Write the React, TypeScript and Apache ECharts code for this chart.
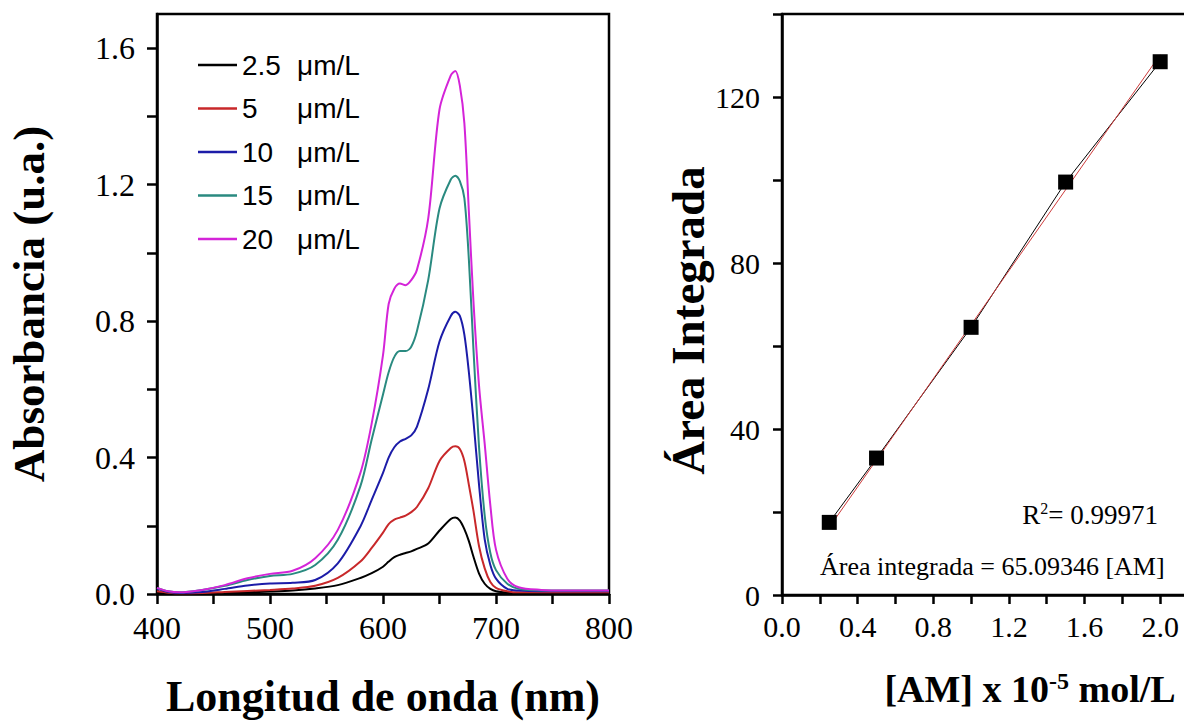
import React, { useEffect, useRef } from "react";
import * as echarts from "echarts";

// ---- Data ----
const wavelengths = [400, 410, 420, 440, 460, 480, 500, 520, 540, 560, 580, 590, 600, 605, 610, 615, 620, 625, 630, 640, 650, 660, 664, 668, 672, 676, 680, 685, 690, 695, 700, 710, 720, 740, 760, 780, 800];
const abs25 = [0.004, 0.002, 0.001, 0.002, 0.003, 0.005, 0.007, 0.01, 0.016, 0.026, 0.047, 0.061, 0.08, 0.095, 0.108, 0.115, 0.12, 0.125, 0.132, 0.148, 0.186, 0.22, 0.224, 0.215, 0.19, 0.155, 0.11, 0.06, 0.03, 0.015, 0.008, 0.004, 0.003, 0.003, 0.003, 0.003, 0.003];
const abs5 = [0.008, 0.004, 0.002, 0.003, 0.006, 0.009, 0.012, 0.016, 0.024, 0.047, 0.095, 0.135, 0.18, 0.205, 0.218, 0.224, 0.23, 0.24, 0.255, 0.31, 0.39, 0.428, 0.433, 0.425, 0.39, 0.32, 0.245, 0.14, 0.075, 0.035, 0.018, 0.008, 0.005, 0.005, 0.005, 0.005, 0.005];
const abs10 = [0.015, 0.006, 0.003, 0.006, 0.015, 0.025, 0.031, 0.033, 0.041, 0.09, 0.198, 0.276, 0.355, 0.4, 0.43, 0.447, 0.455, 0.465, 0.49, 0.6, 0.74, 0.815, 0.827, 0.815, 0.76, 0.65, 0.51, 0.32, 0.16, 0.085, 0.045, 0.015, 0.01, 0.008, 0.008, 0.008, 0.008];
const abs15 = [0.018, 0.008, 0.005, 0.012, 0.024, 0.041, 0.053, 0.059, 0.085, 0.159, 0.316, 0.453, 0.585, 0.65, 0.695, 0.712, 0.712, 0.725, 0.77, 0.92, 1.13, 1.215, 1.226, 1.21, 1.16, 0.98, 0.72, 0.43, 0.23, 0.12, 0.07, 0.03, 0.015, 0.01, 0.01, 0.01, 0.01];
const abs20 = [0.018, 0.008, 0.005, 0.012, 0.026, 0.046, 0.059, 0.068, 0.105, 0.188, 0.355, 0.5, 0.7, 0.85, 0.895, 0.91, 0.905, 0.92, 0.95, 1.1, 1.42, 1.52, 1.533, 1.49, 1.38, 1.12, 0.86, 0.61, 0.44, 0.26, 0.13, 0.045, 0.02, 0.012, 0.01, 0.01, 0.01];
const seriesNames = ["2.5 μm/L", "5 μm/L", "10 μm/L", "15 μm/L", "20 μm/L"];

const concentrations = [0.25, 0.5, 1.0, 1.5, 2.0];
const areas = [17.5, 33, 64.5, 99.5, 128.5];
const fitLine = [[0.25, 16.3], [2.0, 130.2]];

const leftXTicks = [400, 450, 500, 550, 600, 650, 700, 750, 800];
const leftXLabels = [400, 500, 600, 700, 800];
const leftYTicks = [0, 0.2, 0.4, 0.6, 0.8, 1.0, 1.2, 1.4, 1.6];
const leftYLabels = [0, 0.4, 0.8, 1.2, 1.6];
const rightXTicks = [0, 0.2, 0.4, 0.6, 0.8, 1.0, 1.2, 1.4, 1.6, 1.8, 2.0];
const rightXLabels = [0, 0.4, 0.8, 1.2, 1.6, 2.0];
const rightYTicks = [0, 20, 40, 60, 80, 100, 120, 140];
const rightYLabels = [0, 40, 80, 120];

const SERIF = "'Liberation Serif', 'Times New Roman', serif";
const SANS = "'Liberation Sans', Arial, sans-serif";
const colors = ["#000000", "#c8282a", "#1c1ca8", "#2a8a80", "#d424d8"];

export default function App() {
  const ref = useRef<HTMLDivElement>(null);
  useEffect(() => {
    if (!ref.current) return;
    const chart = echarts.init(ref.current, null, { renderer: "svg" });
    const spectra = [abs25, abs5, abs10, abs15, abs20];
    const axisLine = { lineStyle: { color: "#000", width: 2.5 } };
    const tickStyle = { color: "#000", width: 2.5 };
    const option: any = {
      animation: false,
      backgroundColor: "#fff",
      grid: [
        { left: 157, top: 14, width: 452, height: 580, show: true, borderColor: "#000", borderWidth: 2.5, outerBoundsMode: "none" },
        { left: 782, top: 14, width: 416, height: 581, show: true, borderColor: "#000", borderWidth: 2.5, outerBoundsMode: "none" },
      ],
      legend: {
        data: seriesNames,
        orient: "vertical",
        left: 193,
        top: 44,
        itemWidth: 39,
        itemHeight: 2.5,
        itemGap: 11.5,
        icon: "rect",
        formatter: (name: string) => {
          const [n, u] = name.split(" ");
          return `{n|${n}}{u|${u}}`;
        },
        textStyle: {
          color: "#000",
          fontSize: 28,
          lineHeight: 32,
          fontFamily: SANS,
          rich: {
            n: { width: 55, fontSize: 28, lineHeight: 32, fontFamily: SANS, color: "#000" },
            u: { fontSize: 28, lineHeight: 32, fontFamily: SANS, color: "#000" },
          },
        },
      },
      xAxis: [
        {
          gridIndex: 0, type: "value", min: 400, max: 800,
          axisLine, splitLine: { show: false },
          axisTick: { customValues: leftXTicks, length: 10, lineStyle: tickStyle },
          axisLabel: { customValues: leftXLabels, margin: 18, fontFamily: SERIF, fontSize: 32, color: "#000" },
          name: "Longitud de onda (nm)", nameLocation: "middle", nameGap: 80,
          nameTextStyle: { fontFamily: SERIF, fontWeight: "bold", fontSize: 44, color: "#000" },
        },
        {
          gridIndex: 1, type: "value", min: 0, max: 2.2,
          axisLine, splitLine: { show: false },
          axisTick: { customValues: rightXTicks, length: 9, lineStyle: tickStyle },
          axisLabel: { customValues: rightXLabels, margin: 16, fontFamily: SERIF, fontSize: 30, color: "#000", formatter: (v: number) => v.toFixed(1) },
          name: "[AM] x 10{sup|-5} mol/L", nameLocation: "middle", nameGap: 74,
          nameTextStyle: {
            fontFamily: SERIF, fontWeight: "bold", fontSize: 38, color: "#000",
            padding: [0, 0, 0, 80],
            rich: {
              sup: { fontFamily: SERIF, fontWeight: "bold", fontSize: 24, color: "#000", verticalAlign: "top", padding: [0, 0, 15, 0] },
            },
          },
        },
      ],
      yAxis: [
        {
          gridIndex: 0, type: "value", min: 0, max: 1.7,
          axisLine, splitLine: { show: false },
          axisTick: { customValues: leftYTicks, length: 10, lineStyle: tickStyle },
          axisLabel: { customValues: leftYLabels, margin: 22, fontFamily: SERIF, fontSize: 32, color: "#000", formatter: (v: number) => v.toFixed(1) },
          name: "Absorbancia (u.a.)", nameLocation: "middle", nameGap: 106, nameRotate: 90,
          nameTextStyle: { fontFamily: SERIF, fontWeight: "bold", fontSize: 45, color: "#000" },
        },
        {
          gridIndex: 1, type: "value", min: 0, max: 140,
          axisLine, splitLine: { show: false },
          axisTick: { customValues: rightYTicks, length: 9, lineStyle: tickStyle },
          axisLabel: { customValues: rightYLabels, margin: 22, fontFamily: SERIF, fontSize: 30, color: "#000" },
          name: "Área Integrada", nameLocation: "middle", nameGap: 52, nameRotate: 90,
          nameTextStyle: { fontFamily: SERIF, fontWeight: "bold", fontSize: 47, color: "#000", padding: [0, 32, 0, 0] },
        },
      ],
      series: [
        ...spectra.map((arr, i) => ({
          name: seriesNames[i],
          type: "line",
          xAxisIndex: 0,
          yAxisIndex: 0,
          data: wavelengths.map((w, j) => [w, arr[j]]),
          showSymbol: false,
          symbol: "none",
          smooth: 0.3,
          color: colors[i],
          lineStyle: { color: colors[i], width: 2 },
          z: 2 + i,
        })),
        {
          name: "data-line",
          type: "line",
          xAxisIndex: 1, yAxisIndex: 1,
          data: concentrations.map((c, i) => [c, areas[i]]),
          symbol: "none",
          lineStyle: { color: "#000", width: 1 },
          z: 2,
        },
        {
          name: "fit",
          type: "line",
          xAxisIndex: 1, yAxisIndex: 1,
          data: fitLine,
          symbol: "none",
          lineStyle: { color: "#cc3b3b", width: 1 },
          z: 3,
        },
        {
          name: "points",
          type: "scatter",
          xAxisIndex: 1, yAxisIndex: 1,
          data: concentrations.map((c, i) => [c, areas[i]]),
          symbol: "rect",
          symbolSize: 15,
          itemStyle: { color: "#000", opacity: 1 },
          z: 4,
        },
      ],
      graphic: [
        {
          type: "text",
          right: 26,
          top: 500,
          style: {
            text: "R{sup|2}= 0.99971",
            fontFamily: SERIF, fontSize: 27, fill: "#000",
            rich: { sup: { fontFamily: SERIF, fontSize: 16, fill: "#000", verticalAlign: "top", padding: [0, 0, 14, 0] } },
          },
        },
        {
          type: "text",
          left: 820,
          top: 553,
          style: { text: "Área integrada = 65.09346 [AM]", fontFamily: SERIF, fontSize: 26, fill: "#000" },
        },
      ],
    };
    chart.setOption(option);
    return () => chart.dispose();
  }, []);
  return <div ref={ref} style={{ position: "fixed", left: 0, top: 0, width: 1184, height: 726, background: "#fff" }} />;
}
